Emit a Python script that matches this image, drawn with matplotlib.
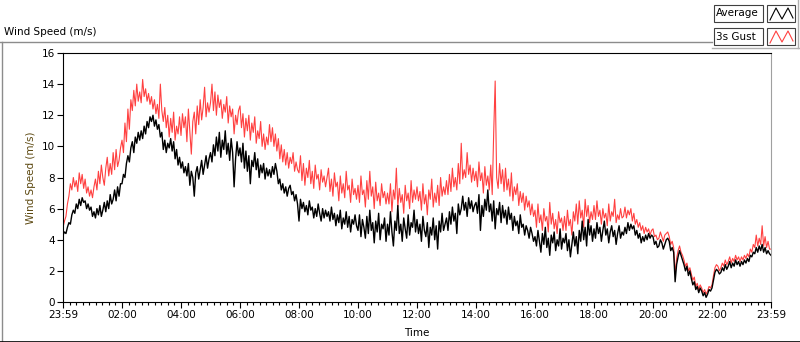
import numpy as np
import matplotlib.pyplot as plt
from matplotlib.lines import Line2D
from matplotlib.patches import Rectangle

# 3-minute samples, one row per hour (00:00 .. 23:57) plus the final 24:00 value
average = [
    4.3, 4.5, 4.4, 4.8, 5.1, 5.0, 5.6, 5.9, 5.7, 6.3, 6.0, 6.6, 6.2, 6.7, 6.4, 6.5, 6.0, 6.3, 5.9, 6.1,
    5.5, 5.8, 5.4, 6.0, 5.6, 6.2, 5.5, 5.9, 6.4, 5.8, 6.5, 6.0, 6.9, 6.3, 6.6, 7.2, 6.5, 7.4, 6.8, 7.6,
    7.6, 8.2, 8.0, 8.9, 9.4, 9.0, 9.9, 10.3, 9.6, 10.6, 10.2, 10.9, 10.4, 11.0, 10.5, 11.3, 10.8, 11.6, 11.2, 11.9,
    11.6, 12.0, 11.3, 11.7, 11.1, 11.4, 10.6, 10.9, 9.8, 10.4, 9.6, 10.2, 9.9, 10.5, 9.7, 10.3, 9.2, 9.8, 8.8, 9.3,
    8.6, 9.0, 8.3, 8.7, 8.1, 8.9, 7.5, 8.4, 8.0, 6.8, 8.3, 8.7, 7.9, 8.5, 9.1, 8.2, 8.8, 9.4, 8.6, 9.2,
    9.6, 9.0, 10.1, 9.4, 10.6, 9.7, 10.9, 9.3, 10.4, 9.8, 11.0, 9.5, 10.2, 9.1, 10.5, 9.6, 7.4, 9.2, 10.3, 9.4,
    9.9, 9.0, 10.2, 8.6, 9.7, 8.4, 9.4, 7.6, 9.1, 8.7, 9.6, 8.5, 9.2, 8.0, 8.8, 8.3, 8.9, 7.9, 8.6, 8.1,
    8.5, 8.0, 8.7, 8.2, 8.9, 8.4, 7.6, 7.9, 7.2, 7.6, 7.0, 7.4, 6.8, 7.3, 7.5, 6.9, 7.1, 6.5, 6.9, 6.3,
    5.2, 6.6, 6.0, 6.4, 5.8, 6.2, 5.6, 6.5, 5.9, 6.1, 5.4, 6.0, 5.5, 6.3, 5.7, 5.2, 6.0, 5.4, 5.9, 5.5,
    5.8, 5.2, 6.1, 5.3, 5.7, 4.9, 5.6, 5.1, 5.9, 4.7, 5.4, 5.0, 5.8, 4.8, 5.5, 4.5, 5.3, 5.0, 5.6, 4.9,
    4.6, 5.6, 4.2, 5.3, 4.8, 4.1, 5.5, 4.4, 5.9, 4.6, 5.1, 3.8, 5.2, 4.5, 5.7, 4.0, 5.0, 4.7, 5.4, 3.9,
    5.0, 4.3, 5.8, 4.5, 3.6, 5.2, 4.6, 6.2, 4.4, 5.0, 3.9, 5.4, 4.7, 4.1, 5.6, 4.3, 5.1, 4.8, 5.9, 4.5,
    5.3, 4.4, 5.0, 3.9, 5.5, 4.6, 4.2, 5.1, 3.5, 4.8, 4.3, 5.4, 4.0, 4.9, 3.4, 5.2, 4.5, 5.7, 4.6, 5.0,
    5.4, 4.6, 5.8, 5.0, 6.1, 5.2, 5.7, 4.4, 6.3, 5.6, 6.0, 6.8, 5.9, 6.4, 5.5, 6.7, 6.0, 6.5, 5.8, 6.2,
    6.4, 5.7, 6.9, 4.6, 6.2, 5.5, 6.6, 5.9, 7.2, 5.8, 6.3, 5.2, 6.5, 4.7, 6.0, 5.6, 6.4, 5.1, 6.2, 5.4,
    5.9, 5.0, 6.1, 5.3, 5.7, 4.6, 5.5, 4.9, 5.2, 4.4, 5.6, 4.8, 5.0, 4.3, 4.9, 4.6, 4.1, 4.8, 4.4, 3.9,
    4.2, 3.6, 4.6, 3.9, 3.2, 4.4, 3.7, 4.8, 3.5, 4.1, 3.0, 4.3, 3.8, 4.5, 3.3, 4.0, 3.6, 4.7, 3.4, 4.1,
    3.8, 4.4, 3.3, 4.0, 2.9, 3.7, 4.5, 3.6, 4.2, 3.1, 4.6, 3.9, 5.2, 4.0, 4.8, 3.6, 5.3, 4.3, 4.9, 3.9,
    4.7, 4.1, 5.1, 4.4, 4.8, 3.9, 4.6, 5.2, 4.3, 4.7, 3.8, 4.5, 4.9, 4.2, 4.6, 3.7, 4.4, 4.9, 4.1, 4.5,
    4.3, 4.8, 4.4, 5.1, 4.6, 5.0, 4.7, 4.9, 4.3, 4.6, 4.1, 4.4, 3.8, 4.2, 3.9, 4.3, 4.0, 4.4, 4.1, 4.3,
    4.2, 3.7, 3.9, 3.5, 3.6, 4.0, 3.8, 3.4, 3.7, 4.0, 4.1, 3.9, 3.3, 3.5, 3.2, 1.3, 2.4, 2.9, 3.3, 3.0,
    2.7, 2.4, 2.0, 2.3, 1.7, 2.0, 1.5, 1.1, 1.3, 0.8, 1.0, 0.6, 0.9, 0.7, 0.4, 0.6, 0.3, 0.5, 0.8, 0.7,
    0.9, 1.4, 1.9, 2.1, 2.0, 1.8, 1.9, 2.2, 2.0, 2.4, 2.1, 2.3, 2.6, 2.2, 2.5, 2.3, 2.7, 2.4, 2.6, 2.3,
    2.6, 2.4, 2.7, 2.5, 2.8, 2.6, 3.0, 2.9, 3.2, 3.1, 3.5, 3.2, 3.6, 3.3, 3.7, 3.2, 3.5, 3.1, 3.3, 3.1,
    3.0,
]

gust = [
    4.8, 5.2, 5.5, 6.3, 6.8, 7.6, 7.2, 8.0, 7.4, 7.8, 7.1, 8.3, 7.6, 8.2, 7.3, 7.9, 7.0, 7.4, 6.8, 7.2,
    6.7, 7.4, 7.9, 7.2, 8.4, 7.6, 8.8, 8.0, 7.5, 8.6, 9.3, 8.1, 8.9, 8.2, 9.6, 8.5, 9.8, 8.7, 9.1, 9.9,
    10.4, 9.6, 11.5, 10.3, 12.4, 11.1, 13.0, 12.3, 13.6, 12.6, 14.0, 12.9, 13.5, 12.8, 14.3, 13.2, 13.7, 12.9, 13.4, 12.7,
    13.2, 12.4, 13.0, 12.1, 12.7, 11.8, 14.0, 12.3, 11.6, 12.5, 11.2, 12.0, 10.6, 11.8, 10.9, 12.2, 10.4, 11.3, 10.8, 11.9,
    10.7, 12.1, 11.2, 11.9, 10.3, 12.4, 11.0, 9.5, 11.6, 12.2, 10.8, 12.6, 11.4, 13.0, 11.7, 12.5, 13.8, 11.9, 12.8, 12.2,
    12.8, 14.0, 12.3, 13.5, 12.0, 13.3, 12.5, 13.0, 11.8, 12.7, 12.2, 13.2, 11.5, 12.6, 11.9, 12.4, 10.8, 12.0, 11.4, 12.3,
    12.6, 11.2, 12.1, 10.6, 11.8, 11.0, 12.0, 10.4, 11.5, 10.9, 11.9, 10.2, 11.0, 10.5, 11.6, 10.0, 10.8, 9.8, 10.6, 10.1,
    11.4, 10.3, 11.2, 10.0, 10.8, 9.7, 10.5, 9.2, 10.1, 9.0, 9.8, 8.8, 9.6, 8.6, 9.3, 8.9, 9.6, 8.4, 9.0, 8.5,
    8.3, 9.4, 7.8, 8.9, 7.5, 8.6, 8.0, 9.1, 7.6, 8.4, 7.3, 8.8, 7.9, 8.2, 7.2, 8.5, 7.7, 8.1, 7.4, 8.0,
    8.6, 7.1, 7.9, 6.8, 8.3, 7.4, 7.7, 6.5, 8.1, 7.0, 7.6, 6.7, 8.4, 7.2, 7.5, 6.4, 7.9, 6.9, 7.3, 6.6,
    7.5, 6.4, 8.1, 6.9, 7.2, 6.1, 7.8, 6.6, 8.4, 6.8, 7.4, 6.0, 7.7, 6.5, 7.0, 6.2, 7.6, 6.7, 7.1, 6.3,
    7.0, 6.3, 7.6, 5.8, 7.2, 6.6, 8.6, 6.1, 7.3, 6.4, 6.9, 5.7, 7.5, 6.5, 7.0, 6.0, 7.8, 6.4, 7.2, 6.6,
    7.4, 6.5, 7.1, 5.9, 7.6, 6.3, 6.9, 5.6, 7.2, 6.6, 7.9, 6.1, 7.0, 6.4, 7.5, 6.2, 8.0, 6.8, 7.4, 6.9,
    7.8, 6.9, 8.2, 7.1, 8.6, 7.4, 8.0, 7.2, 8.9, 7.6, 10.2, 7.9, 8.5, 8.0, 9.6, 8.2, 8.8, 7.7, 8.6, 7.8,
    8.4, 7.4, 9.0, 7.8, 8.3, 7.0, 8.7, 7.5, 8.1, 7.2, 8.8, 6.9, 10.9, 14.2, 8.0, 7.3, 8.9, 7.6, 8.5, 7.1,
    8.6, 7.2, 7.9, 6.8, 8.3, 6.5, 7.4, 6.9, 7.6, 6.2, 7.1, 6.4, 7.0, 5.9, 6.8, 6.1, 6.5, 5.6, 6.3, 5.5,
    5.9, 4.8, 6.3, 5.1, 5.6, 4.6, 6.0, 5.2, 5.5, 4.5, 6.4, 5.0, 5.7, 4.7, 5.3, 4.4, 5.8, 5.1, 5.4, 4.6,
    5.5, 4.6, 5.9, 4.9, 5.3, 4.3, 5.8, 5.2, 6.3, 5.0, 6.5, 5.4, 5.9, 4.8, 6.6, 5.5, 6.2, 5.1, 5.8, 5.3,
    6.2, 5.3, 6.5, 5.5, 5.9, 5.0, 6.0, 5.4, 5.7, 4.9, 6.3, 5.2, 5.8, 5.5, 6.6, 5.1, 5.6, 5.3, 6.0, 5.4,
    5.5, 6.1, 5.4, 5.9, 5.6, 6.0, 5.2, 5.7, 5.0, 5.3, 4.8, 5.1, 4.6, 4.9, 4.4, 4.8, 4.5, 4.7, 4.3, 4.6,
    4.7, 4.2, 4.3, 4.0, 4.1, 4.5, 4.2, 3.9, 4.3, 4.4, 4.5, 4.2, 3.7, 3.9, 3.5, 1.8, 2.8, 3.3, 3.6, 3.2,
    3.0, 2.7, 2.3, 2.5, 2.0, 2.2, 1.8, 1.4, 1.6, 1.0, 1.2, 0.8, 1.1, 0.9, 0.6, 0.8, 0.5, 0.7, 1.0, 0.9,
    1.1, 1.7, 2.2, 2.4, 2.3, 2.0, 2.2, 2.5, 2.3, 2.7, 2.4, 2.6, 2.9, 2.5, 2.8, 2.6, 3.0, 2.7, 2.9, 2.6,
    2.9, 2.7, 3.0, 2.8, 3.1, 2.9, 3.4, 3.2, 3.7, 3.5, 4.3, 3.6, 4.1, 3.7, 4.9, 3.6, 4.2, 3.5, 3.9, 3.4,
    3.4,
]

hours = np.arange(len(average)) * 3 / 60.0
tick_hours = [0, 2, 4, 6, 8, 10, 12, 14, 16, 18, 20, 22, 24]
tick_labels = ['23:59', '02:00', '04:00', '06:00', '08:00', '10:00', '12:00',
               '14:00', '16:00', '18:00', '20:00', '22:00', '23:59']

plt.rcParams['font.family'] = 'DejaVu Sans'
fig = plt.figure(figsize=(8, 3.42), dpi=100)
ax = fig.add_axes([63 / 800, 1 - 302 / 342, 708 / 800, 249 / 342])

ax.plot(hours, gust, color='#ff4040', lw=0.8)
ax.plot(hours, average, color='black', lw=1.0)

ax.set_xlim(0, 24)
ax.set_ylim(0, 16)
ax.set_yticks(range(0, 17, 2))
ax.set_xticks(tick_hours)
ax.set_xticklabels(tick_labels)
ax.set_xticks(np.linspace(0, 24, 109), minor=True)
ax.tick_params(axis='both', labelsize=7.5, length=4, width=0.8, pad=2)
ax.tick_params(axis='x', which='minor', length=2.5, width=0.8)
ax.set_ylabel('Wind Speed (m/s)', fontsize=7.5, color='#5c4810', labelpad=4)
ax.spines['right'].set_color('#a0a0a0')
for s in ['left', 'bottom', 'top']:
    ax.spines[s].set_color('black')
fig.text(417 / 800, 1 - 333 / 342, 'Time', fontsize=7.5, ha='center', va='center')

# LabVIEW-style frame and header
fig.text(4 / 800, 1 - 32 / 342, 'Wind Speed (m/s)', fontsize=7.5, va='center')
fig.add_artist(Line2D([0, 712 / 800], [1 - 42 / 342] * 2, color='#8c8c8c', lw=1))
fig.add_artist(Line2D([1.5 / 800] * 2, [0, 1 - 42 / 342], color='#8c8c8c', lw=1))
fig.add_artist(Line2D([0, 1], [0.5 / 342] * 2, color='black', lw=1.2))
fig.add_artist(Line2D([712 / 800, 1], [1 - 48 / 342] * 2, color='#b0b0b0', lw=1))
fig.add_artist(Line2D([798 / 800] * 2, [1 - 48 / 342, 1], color='#b0b0b0', lw=1))

# legend boxes
for i, (name, col) in enumerate([('Average', 'black'), ('3s Gust', '#ff4040')]):
    top = 5 + i * 23
    fig.add_artist(Rectangle((714 / 800, 1 - (top + 17) / 342), 49 / 800, 17 / 342,
                             fill=False, ec='#404040', lw=0.8))
    fig.text(716 / 800, 1 - (top + 8.5) / 342, name, fontsize=7.5, va='center')
    fig.add_artist(Rectangle((767 / 800, 1 - (top + 17) / 342), 28 / 800, 17 / 342,
                             fill=False, ec='#404040', lw=0.8))
    xs = np.array([770, 776, 782, 788, 793]) / 800
    ys = 1 - (top + np.array([15, 3, 14, 3, 13])) / 342
    fig.add_artist(Line2D(xs, ys, color=col, lw=0.8))

plt.savefig('out.png')
